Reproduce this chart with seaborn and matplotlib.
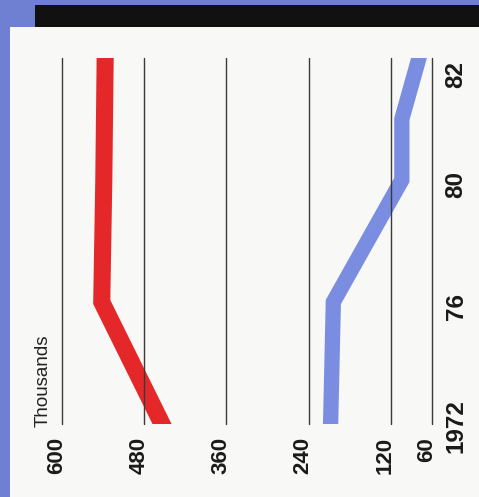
import numpy as np
import pandas as pd
import matplotlib
matplotlib.use("Agg")
import matplotlib.pyplot as plt
import matplotlib.transforms as mtransforms
import seaborn as sns
from matplotlib.patches import Rectangle

# ---- data ----
years = [1972, 1976, 1980, 1981, 1982]
red_values = [454, 542, 539, 538, 537]
blue_values = [208, 204, 104, 104, 79]
value_ticks = [600, 480, 360, 240, 120, 60]
value_labels = ["600", "480", "360", "240", "120", "60"]
year_ticks = [1972, 1976, 1980, 1982]
year_labels = ["1972", "76", "80", "82"]
axis_title = "Thousands"

red_df = pd.DataFrame({"year": years, "value": red_values})
blue_df = pd.DataFrame({"year": years, "value": blue_values})

sns.set_theme(style="white")
plt.rcParams["font.family"] = ["Liberation Sans", "DejaVu Sans"]

W, H = 479, 497
fig = plt.figure(figsize=(W / 100, H / 100), dpi=100)
fig.patch.set_facecolor("#6f80d2")


def fx(px):
    return px / W


def fy(py):
    return 1 - py / H


fig.add_artist(Rectangle((fx(10), 0), 1 - fx(10), fy(27), transform=fig.transFigure,
                         facecolor="#f8f8f6", edgecolor="none", zorder=0))
fig.add_artist(Rectangle((fx(35), fy(27)), 1 - fx(35), fy(5) - fy(27), transform=fig.transFigure,
                         facecolor="#111111", edgecolor="none", zorder=0))

ax = fig.add_axes([fx(62), fy(424), fx(432) - fx(62), fy(58) - fy(424)])
ax.patch.set_alpha(0)

sns.lineplot(data=red_df, x="value", y="year", orient="y", sort=False, ax=ax,
             color="#e4282a", linewidth=12.3, solid_capstyle="projecting",
             solid_joinstyle="miter", legend=False)
sns.lineplot(data=blue_df, x="value", y="year", orient="y", sort=False, ax=ax,
             color="#7a8de0", linewidth=11.0, solid_capstyle="projecting",
             solid_joinstyle="miter", legend=False)

# year axis: tick labels evenly spaced (1972, 76, 80, 82)
YK = [1960, 1972, 1976, 1980, 1982, 1990]
PK = [-3, 0, 1, 2, 3, 7]


def fwd(y):
    return np.interp(y, YK, PK)


def inv(p):
    return np.interp(p, PK, YK)


ax.set_yscale("function", functions=(fwd, inv))
ax.set_ylim(1972, 1982)
ax.set_xlim(600, 60)

ax.set_xticks(value_ticks)
ax.set_xticklabels(value_labels)
ax.set_yticks(year_ticks)
ax.set_yticklabels(year_labels)
ax.yaxis.tick_right()
ax.tick_params(length=0, labelcolor="#1a1a1a")
ax.tick_params(axis="x", pad=9.4, labelsize=16)
ax.tick_params(axis="y", pad=9.0, labelsize=17.5)
for t in ax.get_xticklabels():
    t.set_rotation(90)
    t.set_rotation_mode("anchor")
    t.set_ha("right")
    t.set_va("baseline")
    t.set_fontweight("bold")
ylabels = ax.get_yticklabels()
for t in ylabels:
    t.set_rotation(90)
    t.set_rotation_mode("anchor")
    t.set_ha("center")
    t.set_va("top")
    t.set_fontweight("bold")
# nudge the year labels slightly downward as in the original
for t, d in zip(ylabels, [2, 5, 5, 16]):
    t.set_transform(t.get_transform() +
                    mtransforms.ScaledTranslation(0, -d / 100, fig.dpi_scale_trans))

ax.set_xlabel("")
ax.set_ylabel("")
ax.set_axisbelow(False)
ax.grid(axis="x", color="#3a3a3a", linewidth=1.0)
ax.grid(axis="y", visible=False)
for g in ax.get_xgridlines():
    g.set_clip_on(False)
for s in ax.spines.values():
    s.set_visible(False)

fig.text(fx(48), fy(427), axis_title, rotation=90, rotation_mode="anchor",
         ha="left", va="baseline", fontsize=13.5, color="#222222")

fig.savefig("out.png", dpi=100, facecolor=fig.get_facecolor())
